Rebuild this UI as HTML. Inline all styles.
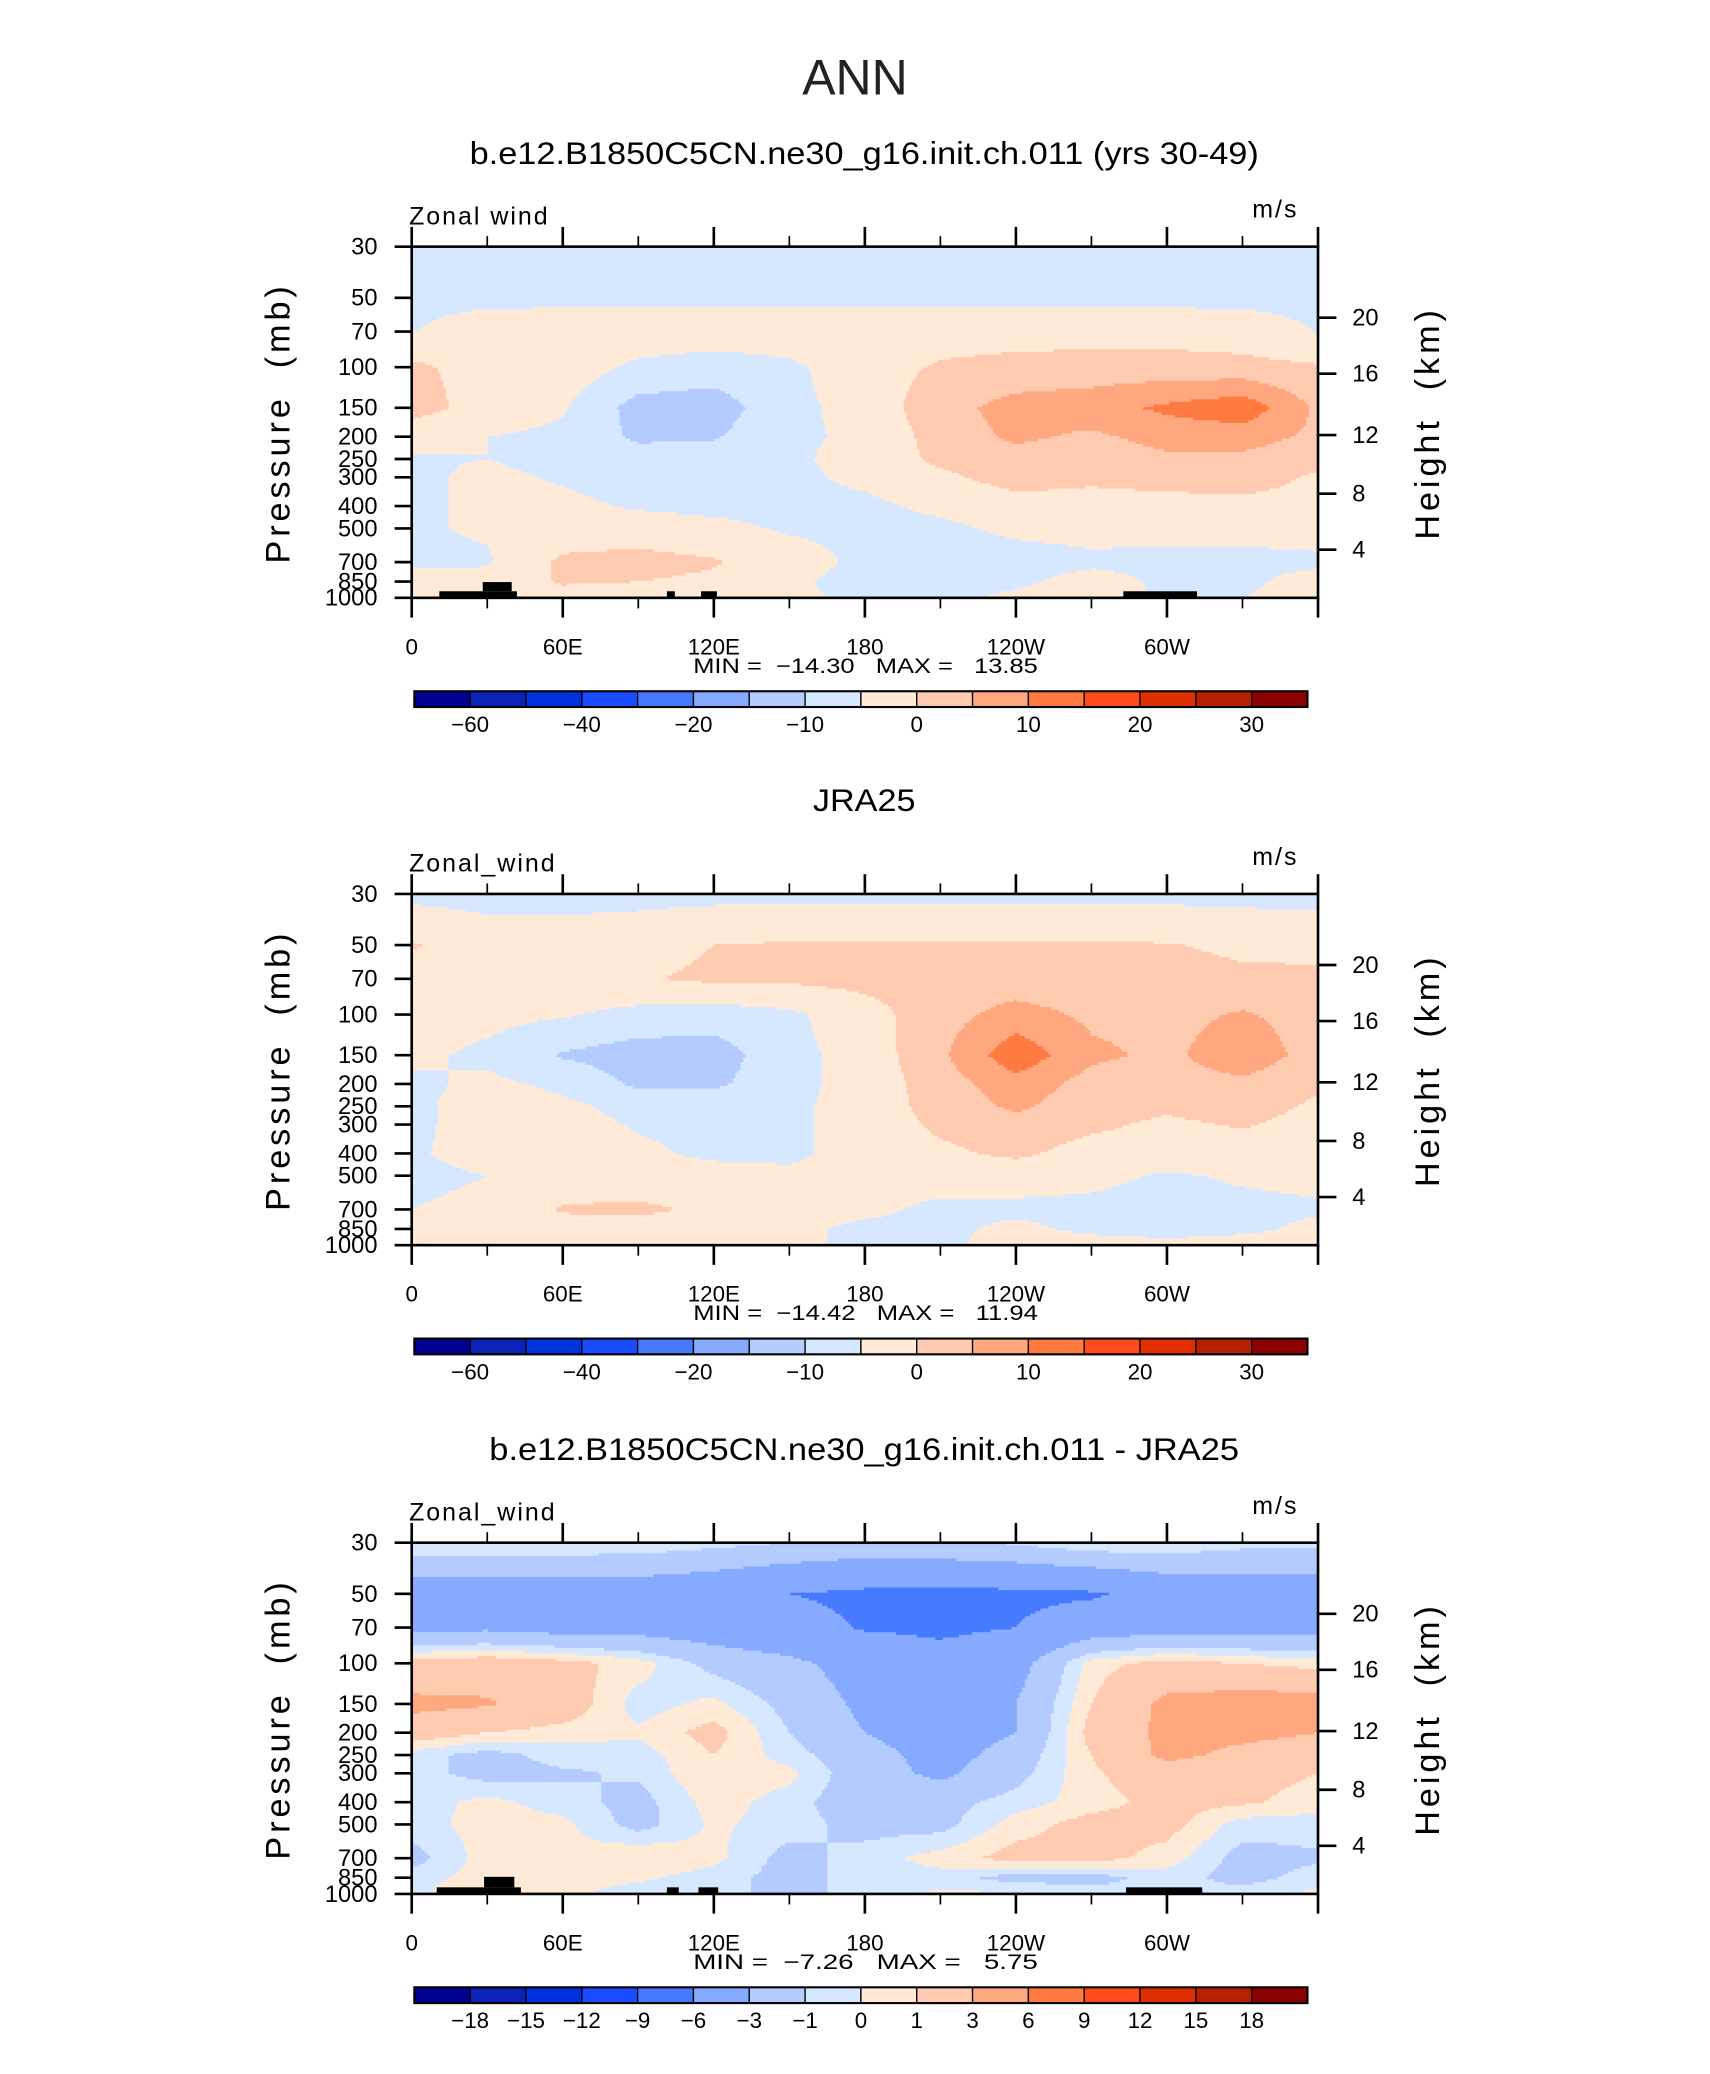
<!DOCTYPE html>
<html><head><meta charset="utf-8">
<style>
html,body{margin:0;padding:0;background:#fff;}
svg{display:block;}
text{font-family:"Liberation Sans",sans-serif;fill:#000;white-space:pre;}
</style></head>
<body>
<svg id="fig" xmlns="http://www.w3.org/2000/svg" width="1710" height="2074" viewBox="0 0 1300 1576.7" preserveAspectRatio="none">
<rect x="0" y="0" width="1300" height="1577" fill="#fff"/>
<text x="650" y="72" font-size="38" text-anchor="middle" style="fill:#222">ANN</text>
</svg>
<script>
const lons=[0,30,60,90,120,150,180,210,240,270,300,330,360];
const plevs=[30,50,70,100,150,200,250,300,400,500,700,850,1000];
const levelsMain=[-60,-50,-40,-30,-20,-15,-10,-5,0,5,10,15,20,25,30];
const levelsDiff=[-18,-15,-12,-9,-6,-3,-1,0,1,3,6,9,12,15,18];
const tickLabelsMain=["−60","−40","−20","−10","0","10","20","30"];
const tickLabelsDiff=["−18","−15","−12","−9","−6","−3","−1","0","1","3","6","9","12","15","18"];
const xTickLabels=["0","60E","120E","180","120W","60W"];
const heightTicks=[4,8,12,16,20];
const modelU=[
[-7,-7,-7,-7,-7,-7,-7,-7,-7,-7,-7,-7,-7],
[-6.3,-6.3,-6.3,-6.3,-6.3,-6.3,-6.3,-6.3,-6.3,-6.3,-6.3,-6.3,-6.3],
[-5.2,-2.5,-2,-2,-2,-2,-2,-2,-2,-2,-2,-2.5,-5.2],
[1,-2,-2,-6,-7.5,-6,-2,0.5,1.5,2,2,1.5,0.5],
[2,-2,-4.5,-12,-12.5,-6.5,-3,3,7,8,11,13.5,4],
[-3,-5,-6,-11,-10.5,-6,-4,2,6,4,7,7,4],
[-5.5,-5,-6.5,-7.5,-7.5,-6,-3,1,3,1.5,4,4,2],
[-6,-4,-5.5,-7,-7,-6,-4,-1,2,1,2,3,-1],
[-6,-4,-4,-5.5,-6,-6,-6,-4,-2,-2,-2,-2,-2],
[-5.5,-4.5,-3,-3,-4,-5.5,-6,-6,-4,-3.5,-4,-4,-3],
[-6,-5.5,1,2,0.5,-3,-6,-7,-7,-6,-6,-6,-6],
[-3,-3,0.5,0,-1,-4,-7,-7,-6,-3,-6,-6,-3],
[-2,1,-2,-2,-2,-4,-6,-6,-4,-2,-6,-5,-3]];
const obsU=[
[-6.5,-6.5,-6.5,-6.5,-6.5,-6.5,-6.5,-6.5,-6.5,-6.5,-6.5,-6.5,-6.5],
[0.5,-3,-3,-2,0,0.5,0.5,0.5,0.5,0.5,0.3,-1,-2],
[-3,-3,-2.5,-0.5,1,1,1.5,2,2,2,2,1,1.5],
[-3,-3.5,-4.5,-6.5,-7.5,-6,-2,3,7,4,3.5,5.5,3],
[-4,-6,-10.5,-12.5,-12.5,-6.5,-3,4,13.5,6,4,8,3],
[-6,-4,-6,-11,-11,-6.5,-3,2.5,8,3,3,4,1],
[-6,-3,-4,-6.5,-6.5,-6,-3,2,6,2,1,2.5,-1],
[-6,-3,-3,-5.5,-6.5,-6,-3,1,3,1,-1,0.5,-2],
[-5.5,-3.5,-2.5,-4,-6,-6,-3,-1,1,-2,-2.5,-3,-3],
[-6,-5,-3,-3,-3,-4,-3,-3,-3,-4,-5.5,-4.5,-4],
[-5,-4,0.5,1,-1,-3,-4,-6,-6,-6,-6.5,-6,-5.5],
[-3,-3,-2,-2,-3,-4,-6,-6,-4,-6,-6.5,-6,-4],
[0.5,-2,-3,-2,-3,-4,-6,-6,-3,-3,-4,-3,-3]];
const diffU=[
[0.1,0.1,0.1,0,-0.5,-1,-1.5,-1.2,-0.8,0.1,0.1,-0.5,-0.5],
[-4.5,-4.5,-4.5,-4.5,-5,-6,-6.5,-6.8,-6.5,-6.3,-5,-4.5,-4.5],
[-3.5,-3.5,-4,-4,-4.5,-5,-6.2,-6.5,-6,-4.5,-4,-4,-4],
[1.5,2,1.5,0.5,-1.5,-2.5,-4,-5,-4,0.5,1.5,1,0.5],
[3.5,3.2,2,-0.5,0.3,-1.5,-3.5,-5,-3,1,3.5,4,4],
[2,1,0.5,0.2,1.5,-1,-3,-4.5,-3,1.5,3.5,3.5,3],
[-0.5,-1.5,-0.5,-0.5,1,-0.5,-2,-4,-2,1,3.5,2.5,2],
[-0.5,-1.5,-1.2,-0.8,1,0.3,-2,-3.5,-1.5,0.8,2,1.5,1],
[-0.5,0.3,-0.5,-1.5,0.5,-0.5,-2,-1.5,-0.5,0.5,1.5,1.2,0.5],
[-0.5,0.5,0.3,-1.5,0.2,-0.5,-1.5,-1.5,0.5,1.5,1.5,-0.5,-0.5],
[-1.5,0.5,0.2,1,0.3,-1.5,-0.5,0.5,1.5,1.5,0.5,-1.5,-1.2],
[-0.5,0.5,0.3,0.2,-0.5,-1.5,-0.5,-0.5,-1.5,-1.5,-0.5,-1.5,-0.5],
[-0.5,1.5,0.3,-0.5,-0.5,-1.5,-0.5,0.2,0.2,-0.5,-0.5,-0.5,0.3]];
const minMax1=["−14.30","13.85"],minMax2=["−14.42","11.94"],minMax3=["−7.26","5.75"];
const COLORS=["#000090","#0a22b5","#0033e0","#1a4cff","#467aff","#86aaff","#b3cbff","#d6e8ff","#ffead8","#ffcbb0","#ffa880","#ff7a40","#ff4a1a","#e03000","#b52000","#8b0000"];

const NS="http://www.w3.org/2000/svg";
const svg=document.getElementById('fig');
const PX0=313,PX1=1002,PH=267;
const LR=Math.log(1000/30);
function xOf(lon){return PX0+lon*(PX1-PX0)/360;}
function yOf(p,top){return top+PH*Math.log(p/30)/LR;}
function el(tag,attrs,parent){const e=document.createElementNS(NS,tag);for(const k in attrs)e.setAttribute(k,attrs[k]);(parent||svg).appendChild(e);return e;}
function txt(s,attrs,parent){const e=el('text',attrs,parent);e.textContent=s;return e;}
function classify(v,lev){let k=0;while(k<lev.length&&v>=lev[k])k++;return k;}
function sample(data,lon,p){
  const lp=Math.log(p);
  let r=0;while(r<plevs.length-2&&Math.log(plevs[r+1])<lp)r++;
  const t=Math.min(1,Math.max(0,(lp-Math.log(plevs[r]))/(Math.log(plevs[r+1])-Math.log(plevs[r]))));
  let c=Math.min(lons.length-2,Math.floor(lon/30));
  const s=Math.min(1,Math.max(0,(lon-lons[c])/(lons[c+1]-lons[c])));
  const a=data[r][c]*(1-s)+data[r][c+1]*s;
  const b=data[r+1][c]*(1-s)+data[r+1][c+1]*s;
  return a*(1-t)+b*t;
}
function drawPanel(top,title,titleLen,data,lev,labels,mm,labelIdx,topo,pname){
  const g=el('g',{});
  
  
  const tAttrs={x:657,y:top-63,'font-size':24,'text-anchor':'middle'};
  if(titleLen){tAttrs.textLength=titleLen;tAttrs.lengthAdjust='spacingAndGlyphs';}
  const t=txt(title,tAttrs,g);
  
  
  const z=txt(top<300?'Zonal wind':'Zonal_wind',{x:311,y:top-17,'font-size':19,'letter-spacing':'1.5'},g);
  
  
  const u=txt('m/s',{x:952,y:top-22,'font-size':19,'letter-spacing':'1.5'},g);
  
  
  const fg=el('g',{},g);
  
  
  const step=2;
  for(let y=top;y<top+PH;y+=step){
    const yc=Math.min(y+step/2,top+PH);
    const p=30*Math.exp((yc-top)/PH*LR);
    let runStart=PX0,runK=-1;
    for(let x=PX0;;x+=step){
      const end=x>=PX1;
      let k=-1;
      if(!end){const lon=(x+step/2-PX0)*360/(PX1-PX0);k=classify(sample(data,Math.min(lon,360),p),lev);}
      if(k!==runK||end){
        if(runK>=0){const xe=Math.min(x,PX1);const r=el('rect',{x:runStart,y:y,width:xe-runStart+(end?0:0.6),height:Math.min(step+0.6,top+PH-y),fill:COLORS[runK]},fg);
          
          }
        runStart=x;runK=k;
      }
      if(end)break;
    }
  }
  topo.forEach(b=>{const r=el('rect',{x:b[0],y:top+b[1],width:b[2]-b[0],height:b[3]-b[1],fill:'#000'},g);
    
    });
  const fr=el('rect',{x:PX0,y:top,width:PX1-PX0,height:PH,fill:'none',stroke:'#000','stroke-width':2},g);
  
  
  for(let lon=0;lon<=360;lon+=30){
    const x=xOf(lon),maj=lon%60===0,L=maj?15:8;
    el('line',{x1:x,y1:top,x2:x,y2:top-L,stroke:'#000','stroke-width':maj?2:1.3},g);
    el('line',{x1:x,y1:top+PH,x2:x,y2:top+PH+L,stroke:'#000','stroke-width':maj?2:1.3},g);
  }
  xTickLabels.forEach((s,i)=>{const e=txt(s,{x:xOf(i*60),y:top+PH+43,'font-size':17,'text-anchor':'middle'},g);
    
    });
  plevs.forEach(p=>{const y=yOf(p,top);
    el('line',{x1:PX0-13,y1:y,x2:PX0,y2:y,stroke:'#000','stroke-width':2},g);
    const e=txt(String(p),{x:287,y:y+6,'font-size':18,'text-anchor':'end'},g);
    
    });
  heightTicks.forEach(z=>{const p=1000*Math.exp(-z/7.15);const y=yOf(p,top)+(z<10?6:z<14?4:0);
    el('line',{x1:PX1,y1:y,x2:PX1+14,y2:y,stroke:'#000','stroke-width':2},g);
    const e=txt(String(z),{x:1028,y:y+6,'font-size':18},g);
    
    });
  const yl=txt('Pressure  (mb)',{x:0,y:0,'font-size':26,'text-anchor':'middle','letter-spacing':'3',transform:`translate(220 ${top+134}) rotate(-90)`},g);
  
  
  const yr=txt('Height  (km)',{x:0,y:0,'font-size':26,'text-anchor':'middle','letter-spacing':'3',transform:`translate(1094 ${top+134}) rotate(-90)`},g);
  
  
  const m=txt(`MIN =  ${mm[0]}   MAX =   ${mm[1]}`,{x:658,y:top+PH+57,'font-size':16,'text-anchor':'middle',textLength:262,lengthAdjust:'spacingAndGlyphs'},g);
  
  
  const cb=el('g',{},g);
  
  
  const cx0=315,cx1=994,cy=top+338,bw=(cx1-cx0)/16;
  COLORS.forEach((c,i)=>{const r=el('rect',{x:cx0+i*bw,y:cy,width:bw,height:12,fill:c,stroke:'#000','stroke-width':1},cb);
    
    });
  el('rect',{x:cx0,y:cy,width:cx1-cx0,height:12,fill:'none',stroke:'#000','stroke-width':1.6},cb);
  labels.forEach((s,i)=>{const e=txt(s,{x:cx0+labelIdx[i]*bw,y:cy+31,'font-size':17,'text-anchor':'middle'},cb);
    
    });
}
const topoA=[[334,262,393,267],[367,255,389,262],[507,262,513,267],[533,262,545,267],[854,262,910,267]];
const topoC=[[332,262,396,267],[368,254,391,262],[507,262,516,267],[531,262,546,267],[856,262,914,267]];
drawPanel(187.5,'b.e12.B1850C5CN.ne30_g16.init.ch.011 (yrs 30-49)',600,modelU,levelsMain,tickLabelsMain,minMax1,[1,3,5,7,9,11,13,15],topoA,'model');
drawPanel(679.6,'JRA25',78,obsU,levelsMain,tickLabelsMain,minMax2,[1,3,5,7,9,11,13,15],[],'obs');
drawPanel(1172.8,'b.e12.B1850C5CN.ne30_g16.init.ch.011 - JRA25',570,diffU,levelsDiff,tickLabelsDiff,minMax3,[1,2,3,4,5,6,7,8,9,10,11,12,13,14,15],topoC,'diff');
</script>
</body></html>
